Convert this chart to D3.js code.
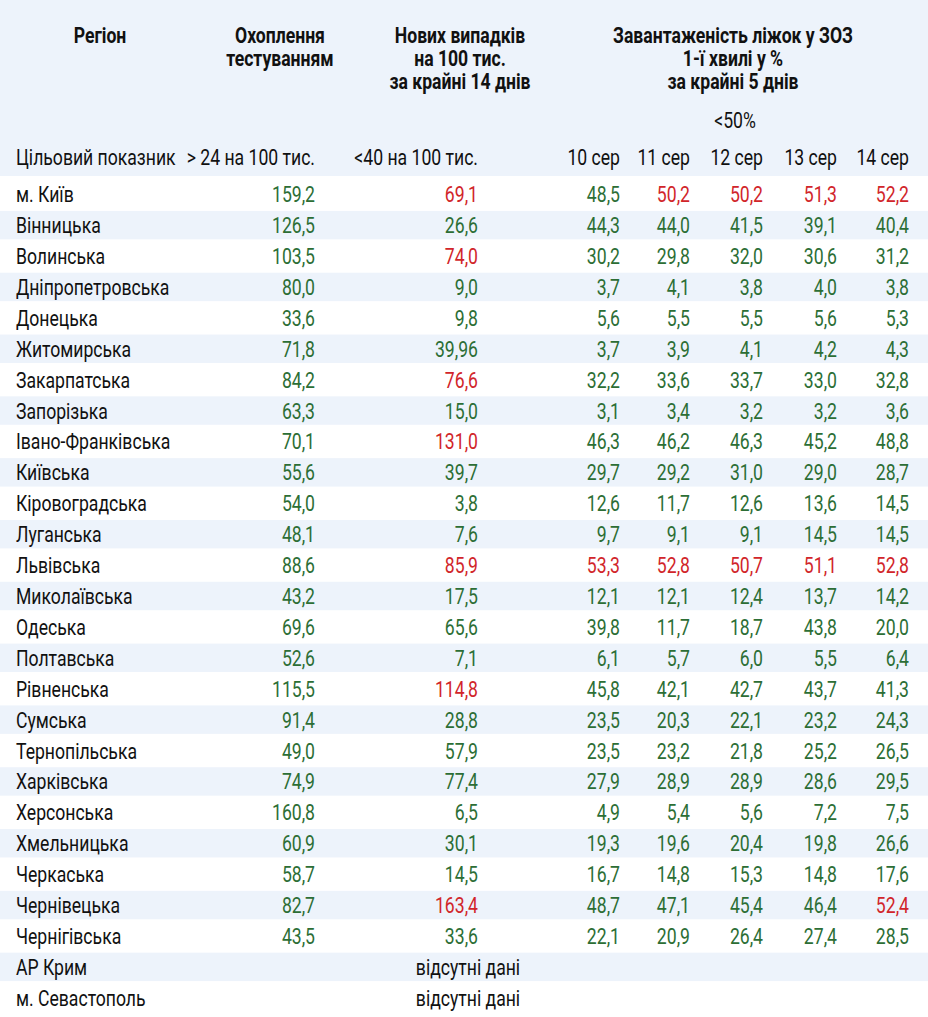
<!DOCTYPE html>
<html><head><meta charset="utf-8">
<script src="https://cdn.jsdelivr.net/npm/d3@7"></script>
<style>body{margin:0;background:#fff}</style>
</head><body><div id="root"></div>
<script>
var regions = ["м. Київ","Вінницька","Волинська","Дніпропетровська","Донецька","Житомирська","Закарпатська","Запорізька","Івано-Франківська","Київська","Кіровоградська","Луганська","Львівська","Миколаївська","Одеська","Полтавська","Рівненська","Сумська","Тернопільська","Харківська","Херсонська","Хмельницька","Черкаська","Чернівецька","Чернігівська","АР Крим","м. Севастополь"];
var testing = [159.2,126.5,103.5,80.0,33.6,71.8,84.2,63.3,70.1,55.6,54.0,48.1,88.6,43.2,69.6,52.6,115.5,91.4,49.0,74.9,160.8,60.9,58.7,82.7,43.5];
var newCases = ["69,1","26,6","74,0","9,0","9,8","39,96","76,6","15,0","131,0","39,7","3,8","7,6","85,9","17,5","65,6","7,1","114,8","28,8","57,9","77,4","6,5","30,1","14,5","163,4","33,6"];
var newCasesRed = ["69,1","74,0","76,6","131,0","85,9","114,8","163,4"];
var days = ["10 сер","11 сер","12 сер","13 сер","14 сер"];
var beds = [
 [48.5,50.2,50.2,51.3,52.2],[44.3,44.0,41.5,39.1,40.4],[30.2,29.8,32.0,30.6,31.2],[3.7,4.1,3.8,4.0,3.8],
 [5.6,5.5,5.5,5.6,5.3],[3.7,3.9,4.1,4.2,4.3],[32.2,33.6,33.7,33.0,32.8],[3.1,3.4,3.2,3.2,3.6],
 [46.3,46.2,46.3,45.2,48.8],[29.7,29.2,31.0,29.0,28.7],[12.6,11.7,12.6,13.6,14.5],[9.7,9.1,9.1,14.5,14.5],
 [53.3,52.8,50.7,51.1,52.8],[12.1,12.1,12.4,13.7,14.2],[39.8,11.7,18.7,43.8,20.0],[6.1,5.7,6.0,5.5,6.4],
 [45.8,42.1,42.7,43.7,41.3],[23.5,20.3,22.1,23.2,24.3],[23.5,23.2,21.8,25.2,26.5],[27.9,28.9,28.9,28.6,29.5],
 [4.9,5.4,5.6,7.2,7.5],[19.3,19.6,20.4,19.8,26.6],[16.7,14.8,15.3,14.8,17.6],[48.7,47.1,45.4,46.4,52.4],
 [22.1,20.9,26.4,27.4,28.5]];
var noData = "відсутні дані";

var W = 928, H = 1017, GREEN = "#2c6e35", RED = "#d1252a", BLUE = "#edf3fb";
var SX = 0.8; // squeeze text horizontally to look condensed
var fmt = function(v){ return v.toFixed(1).replace(".", ","); };

var svg = d3.select("#root").append("svg").attr("width", W).attr("height", H)
  .style("font-family", "Roboto, sans-serif");

var y = d3.scaleBand().domain(d3.range(regions.length)).range([180, 1012]).paddingInner(0.08);
var colRight = [315, 478, 620, 690, 763, 837, 909];

svg.append("rect").attr("width", W).attr("height", 176).attr("fill", BLUE);
svg.selectAll("rect.row").data(regions).enter().append("rect").attr("class", "row")
  .attr("x", 0).attr("width", W).attr("y", function(d, i){ return y(i); })
  .attr("height", y.bandwidth()).attr("fill", function(d, i){ return i % 2 ? BLUE : "#fff"; });

var txt = svg.append("g").attr("transform", "scale(" + SX + ",1)").attr("font-size", 22);
function put(x, yy, t, anchor, fill, bold) {
  return txt.append("text").attr("x", x / SX).attr("y", yy).attr("text-anchor", anchor || "start")
    .attr("fill", fill || "#111").attr("font-weight", bold ? "bold" : null).text(t);
}

// header
[[100, ["Регіон"]], [280, ["Охоплення", "тестуванням"]], [460, ["Нових випадків", "на 100 тис.", "за крайні 14 днів"]],
 [733, ["Завантаженість ліжок у ЗОЗ", "1-ї хвилі у %", "за крайні 5 днів"]]].forEach(function(h){
  h[1].forEach(function(t, k){ put(h[0], 43 + k * 23, t, "middle", "#111", true); });
});
put(735, 128, "<50%", "middle");
put(16, 165, "Цільовий показник");
put(colRight[0], 165, "> 24 на 100 тис.", "end");
put(colRight[1], 165, "<40 на 100 тис.", "end");
days.forEach(function(d, j){ put(colRight[2 + j], 165, d, "end"); });

// body
regions.forEach(function(r, i){
  var yy = y(i) + y.bandwidth() / 2 + 8;
  put(16, yy, r);
  if (i >= testing.length) { put(468, yy, noData, "middle"); return; }
  put(colRight[0], yy, fmt(testing[i]), "end", testing[i] > 24 ? GREEN : RED);
  put(colRight[1], yy, newCases[i], "end", newCasesRed.indexOf(newCases[i]) >= 0 ? RED : GREEN);
  beds[i].forEach(function(v, j){ put(colRight[2 + j], yy, fmt(v), "end", v < 50 ? GREEN : RED); });
});
</script></body></html>
